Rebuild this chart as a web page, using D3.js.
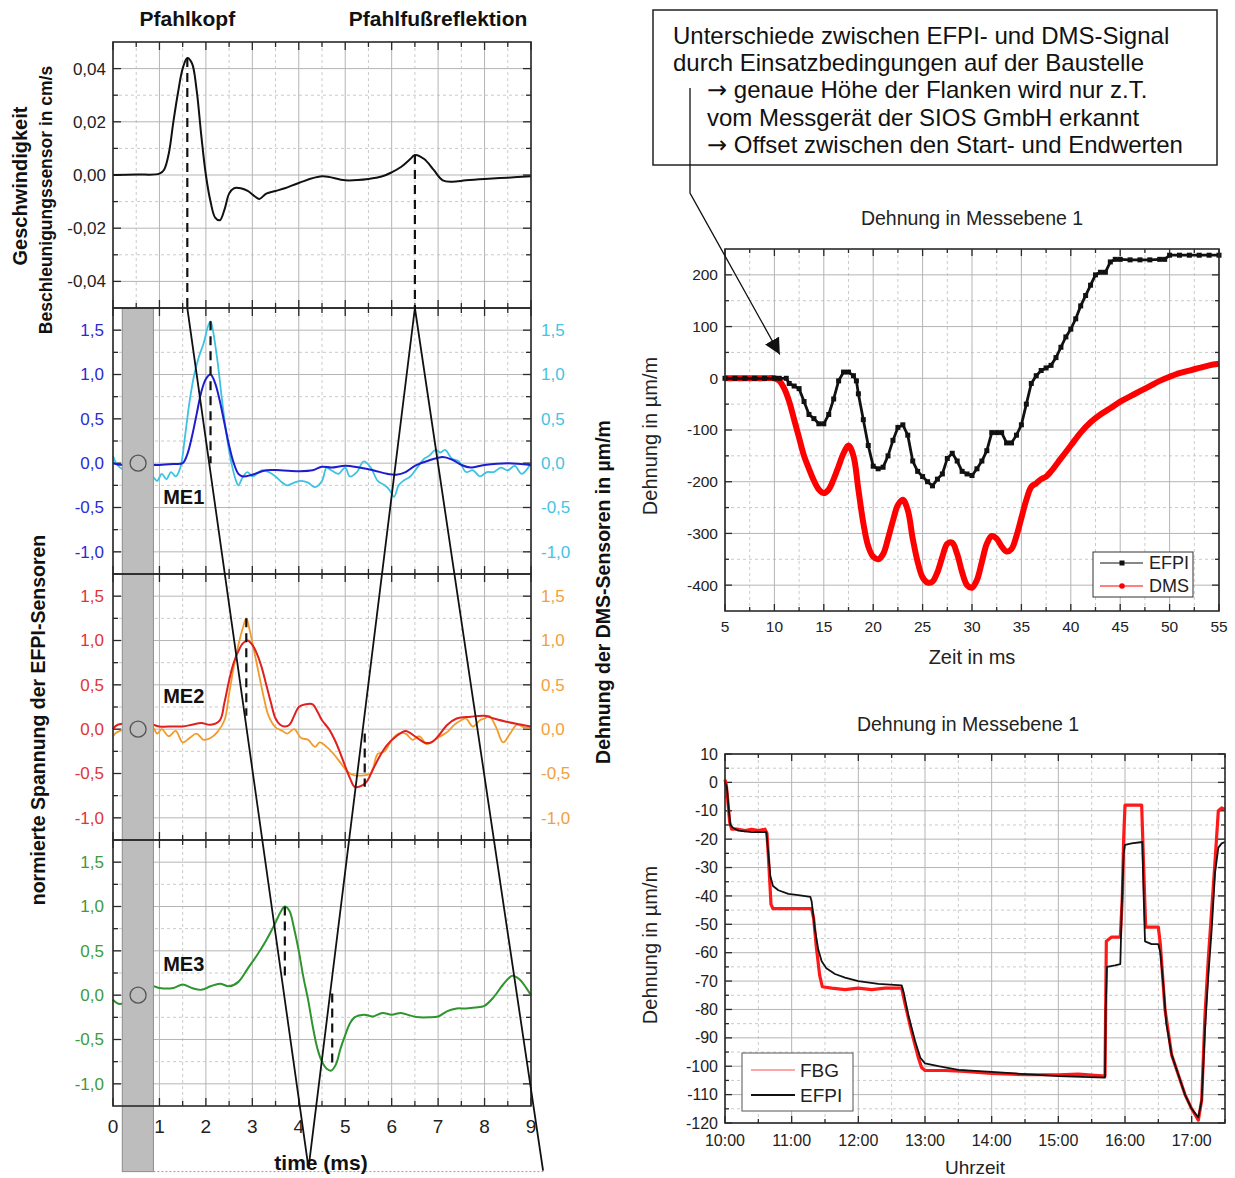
<!DOCTYPE html>
<html>
<head>
<meta charset="utf-8">
<script src="https://cdn.jsdelivr.net/npm/d3@7"></script>
<style>
  body { margin: 0; background: #fff; }
  svg { display: block; font-family: "Liberation Sans", Arial, sans-serif; }
</style>
</head>
<body>
<div id="chart"></div>
<script>
// ---------- data ----------
// left: pile test, time in ms
const velocity = [[0,0],[0.5,0.0002],[1.0,0.0005],[1.1,0.002],[1.2,0.008],[1.3,0.02],[1.4,0.031],[1.5,0.040],[1.6,0.044],[1.7,0.042],[1.8,0.032],[1.9,0.015],[2.0,0.0],[2.1,-0.01],[2.2,-0.016],[2.3,-0.017],[2.4,-0.013],[2.5,-0.007],[2.6,-0.005],[2.75,-0.005],[2.9,-0.006],[3.05,-0.008],[3.15,-0.009],[3.3,-0.007],[3.5,-0.006],[3.7,-0.005],[4.0,-0.003],[4.5,-0.0005],[5.0,-0.002],[5.5,-0.0015],[5.8,-0.0005],[6.0,0.001],[6.2,0.003],[6.4,0.006],[6.5,0.0075],[6.7,0.006],[6.9,0.002],[7.1,-0.002],[7.3,-0.0025],[7.6,-0.002],[8.0,-0.0015],[8.5,-0.001],[9.0,-0.0005]];

const me1Efpi = [[0,0],[0.2,-0.02],[0.85,-0.02],[1.0,-0.02],[1.3,-0.01],[1.5,0.0],[1.6,0.1],[1.7,0.3],[1.8,0.55],[1.9,0.8],[2.0,0.95],[2.1,1.0],[2.2,0.9],[2.3,0.7],[2.4,0.45],[2.5,0.2],[2.6,0.0],[2.7,-0.12],[2.8,-0.15],[3.0,-0.13],[3.3,-0.08],[3.6,-0.08],[4.0,-0.09],[4.3,-0.08],[4.5,-0.04],[4.7,-0.05],[5.0,-0.03],[5.3,-0.05],[5.6,-0.08],[5.9,-0.12],[6.1,-0.13],[6.3,-0.1],[6.5,-0.03],[6.8,0.03],[7.1,0.07],[7.3,0.04],[7.5,-0.02],[7.7,-0.05],[8.0,-0.02],[8.5,0.0],[9.0,-0.02]];
const me1Dms = [[0,0.08],[0.15,-0.05],[0.85,-0.15],[0.95,-0.2],[1.05,-0.12],[1.15,-0.18],[1.25,-0.1],[1.35,-0.15],[1.45,-0.05],[1.55,0.3],[1.65,0.7],[1.75,1.0],[1.85,1.2],[1.95,1.35],[2.05,1.55],[2.1,1.6],[2.15,1.5],[2.25,1.15],[2.35,0.7],[2.45,0.3],[2.55,0.0],[2.65,-0.2],[2.7,-0.25],[2.8,-0.15],[2.9,-0.1],[3.0,-0.15],[3.1,-0.12],[3.2,-0.08],[3.35,-0.1],[3.5,-0.15],[3.6,-0.2],[3.75,-0.25],[3.9,-0.22],[4.05,-0.2],[4.2,-0.22],[4.35,-0.27],[4.5,-0.2],[4.6,-0.05],[4.7,-0.08],[4.85,-0.12],[5.0,-0.05],[5.1,-0.15],[5.25,-0.1],[5.4,0.02],[5.55,-0.05],[5.7,-0.2],[5.85,-0.25],[5.95,-0.3],[6.05,-0.38],[6.15,-0.25],[6.25,-0.2],[6.4,-0.15],[6.55,-0.05],[6.7,0.05],[6.8,0.08],[6.95,0.15],[7.05,0.12],[7.15,0.15],[7.3,0.05],[7.45,0.02],[7.6,-0.1],[7.75,-0.08],[7.9,-0.15],[8.05,-0.1],[8.2,-0.1],[8.35,-0.05],[8.5,-0.08],[8.65,-0.03],[8.8,-0.12],[9.0,0.0]];

const me2Efpi = [[0,0.0],[0.1,0.05],[0.85,0.05],[1.0,0.03],[1.3,0.03],[1.5,0.03],[1.7,0.05],[1.9,0.07],[2.1,0.05],[2.3,0.1],[2.4,0.3],[2.5,0.55],[2.6,0.75],[2.7,0.88],[2.8,0.97],[2.9,1.0],[3.0,0.95],[3.1,0.85],[3.2,0.7],[3.3,0.5],[3.4,0.3],[3.5,0.12],[3.6,0.05],[3.7,0.03],[3.8,0.05],[3.9,0.15],[4.0,0.25],[4.15,0.28],[4.3,0.28],[4.4,0.2],[4.5,0.1],[4.65,0.0],[4.8,-0.15],[4.95,-0.35],[5.1,-0.55],[5.2,-0.65],[5.3,-0.65],[5.45,-0.6],[5.6,-0.45],[5.75,-0.3],[5.9,-0.18],[6.1,-0.08],[6.3,-0.02],[6.5,-0.08],[6.7,-0.15],[6.85,-0.15],[7.0,-0.08],[7.2,0.05],[7.4,0.12],[7.7,0.14],[8.0,0.15],[8.2,0.12],[8.5,0.08],[8.8,0.05],[9.0,0.03]];
const me2Dms = [[0,-0.08],[0.1,-0.03],[0.85,0.02],[0.95,-0.05],[1.05,0.0],[1.2,-0.08],[1.35,-0.02],[1.5,-0.15],[1.65,-0.1],[1.8,-0.05],[1.95,-0.12],[2.1,-0.1],[2.25,-0.03],[2.4,0.1],[2.5,0.4],[2.6,0.7],[2.7,0.95],[2.8,1.15],[2.87,1.25],[2.95,1.1],[3.05,0.85],[3.15,0.6],[3.25,0.35],[3.35,0.15],[3.5,0.02],[3.65,-0.02],[3.75,-0.05],[3.9,0.0],[4.05,-0.1],[4.2,-0.12],[4.35,-0.2],[4.45,-0.15],[4.6,-0.2],[4.75,-0.28],[4.9,-0.38],[5.05,-0.48],[5.2,-0.52],[5.4,-0.52],[5.55,-0.5],[5.7,-0.28],[5.85,-0.25],[6.0,-0.12],[6.15,-0.05],[6.3,-0.05],[6.45,-0.12],[6.6,-0.08],[6.75,-0.17],[6.9,-0.13],[7.05,-0.08],[7.2,-0.03],[7.35,0.05],[7.5,0.1],[7.6,0.12],[7.75,0.03],[7.9,0.1],[8.0,0.12],[8.1,0.15],[8.25,0.02],[8.4,-0.15],[8.55,-0.05],[8.7,0.05],[8.85,0.02],[9.0,0.02]];

const me3Efpi = [[0,-0.05],[0.15,-0.1],[0.85,0.1],[1.0,0.08],[1.3,0.08],[1.5,0.12],[1.7,0.08],[1.9,0.06],[2.1,0.1],[2.3,0.13],[2.5,0.1],[2.7,0.15],[2.9,0.3],[3.1,0.45],[3.3,0.62],[3.5,0.82],[3.6,0.93],[3.7,1.0],[3.8,0.95],[3.9,0.75],[4.0,0.5],[4.1,0.2],[4.2,-0.05],[4.3,-0.35],[4.4,-0.6],[4.5,-0.75],[4.6,-0.83],[4.7,-0.85],[4.8,-0.78],[4.9,-0.6],[5.0,-0.45],[5.1,-0.32],[5.2,-0.25],[5.4,-0.22],[5.6,-0.24],[5.8,-0.2],[6.0,-0.22],[6.2,-0.2],[6.4,-0.23],[6.6,-0.25],[6.8,-0.25],[7.0,-0.24],[7.2,-0.18],[7.4,-0.15],[7.6,-0.15],[7.8,-0.14],[8.0,-0.12],[8.2,-0.02],[8.4,0.12],[8.6,0.22],[8.75,0.18],[8.9,0.08],[9.0,0.0]];

// wave path through the pile: time (ms) and depth in panel units (0 = top of ME1, 3 per panel)
const waveTime = [1.6, 4.21, 6.5, 9.26];
const waveDepth = [0, 9.7, 0, 9.73];

// dashed markers: [panel index (-1 = top), time, from value, to value]
const markers = [[-1,1.6,0.044,-0.05],[-1,6.5,0.0075,-0.05],[0,2.1,1.6,0.0],[1,2.87,1.25,0.15],[1,5.42,-0.05,-0.65],[2,3.7,1.0,0.2],[2,4.72,0.02,-0.82]];

const leftTicksX = [0,1,2,3,4,5,6,7,8,9];
const topTicksY = [-0.04,-0.02,0,0.02,0.04];
const panelTicksY = [-1.0,-0.5,0,0.5,1.0,1.5];

// right top: strain in measuring plane 1, time in ms
const efpiShock = [[5,0],[6,0],[7,0],[8,0],[9,0],[10,0],[10.5,0],[11.2,0],[11.5,-10],[12,-15],[12.5,-20],[13,-45],[13.5,-70],[14,-78],[14.5,-88],[15,-88],[15.5,-70],[16,-40],[16.5,-5],[17,12],[17.5,12],[18,5],[18.3,-5],[18.5,-30],[19,-80],[19.5,-130],[20,-170],[20.5,-175],[21,-172],[21.5,-150],[22,-120],[22.5,-95],[23,-90],[23.5,-110],[24,-160],[24.5,-180],[25,-190],[25.5,-200],[26,-208],[26.5,-195],[27,-185],[27.5,-155],[28,-145],[28.5,-160],[29,-180],[29.5,-185],[30,-188],[30.5,-175],[31,-160],[31.5,-140],[32,-105],[32.5,-105],[33,-105],[33.5,-125],[34,-125],[34.5,-110],[35,-90],[35.5,-50],[36,-10],[36.5,5],[37,15],[37.5,20],[38,25],[38.5,40],[39,60],[39.5,80],[40,95],[40.5,115],[41,140],[41.5,160],[42,180],[42.5,200],[43,205],[43.5,205],[44,225],[44.5,230],[45,230],[46,229],[47,229],[48,229],[49,230],[49.5,230],[50,238],[51,238],[52,238],[53,238],[54,238],[55,238]];
const dmsShock = [[5,0],[7,0],[9,0],[10,0],[10.5,-5],[11,-20],[11.5,-45],[12,-80],[12.5,-115],[13,-150],[13.5,-175],[14,-198],[14.5,-215],[15,-222],[15.5,-215],[16,-195],[16.5,-170],[17,-145],[17.5,-130],[18,-150],[18.5,-215],[19,-280],[19.5,-325],[20,-345],[20.5,-350],[21,-340],[21.5,-310],[22,-275],[22.5,-245],[23,-235],[23.5,-255],[24,-310],[24.5,-355],[25,-385],[25.5,-395],[26,-393],[26.5,-375],[27,-345],[27.5,-320],[28,-318],[28.5,-340],[29,-375],[29.5,-400],[30,-405],[30.5,-390],[31,-355],[31.5,-320],[32,-305],[32.5,-310],[33,-325],[33.5,-335],[34,-330],[34.5,-305],[35,-270],[35.5,-235],[36,-210],[36.5,-203],[37,-195],[37.5,-190],[38,-180],[39,-155],[40,-130],[41,-105],[42,-85],[43,-70],[44,-58],[45,-45],[46,-35],[47,-25],[48,-15],[49,-5],[50,3],[51,10],[52,15],[53,20],[54,25],[55,28]];
const shockTicksX = [5,10,15,20,25,30,35,40,45,50,55];
const shockTicksY = [-400,-300,-200,-100,0,100,200];

// right bottom: strain over the day, time in hours
const fbgDay = [[10.0,1],[10.02,-1],[10.04,-6],[10.07,-14],[10.1,-16.5],[10.2,-16.5],[10.3,-17],[10.4,-16.5],[10.5,-17],[10.6,-16.5],[10.63,-18],[10.66,-30],[10.69,-43],[10.72,-44.5],[10.85,-44.5],[11.0,-44.5],[11.15,-44.5],[11.3,-44.5],[11.33,-48],[11.37,-58],[11.42,-68],[11.46,-72],[11.6,-72.5],[11.8,-73],[12.0,-72.5],[12.2,-73],[12.4,-72.5],[12.65,-72.5],[12.7,-78],[12.8,-88],[12.9,-97],[12.95,-100.5],[13.0,-101.5],[13.3,-101.5],[13.6,-101.8],[14.0,-102.5],[14.5,-103],[15.0,-103],[15.3,-102.8],[15.7,-103.5],[15.72,-56],[15.8,-54.5],[15.93,-54.5],[15.96,-40],[15.98,-20],[16.0,-8],[16.1,-8],[16.25,-8],[16.28,-30],[16.31,-51],[16.4,-51],[16.5,-51],[16.53,-57],[16.6,-80],[16.7,-96],[16.8,-103],[16.9,-110],[17.0,-115],[17.1,-119],[17.15,-112],[17.2,-82],[17.25,-62],[17.3,-45],[17.35,-28],[17.4,-10],[17.45,-9],[17.5,-9.5]];
const efpiDay = [[10.0,0],[10.03,-2],[10.05,-8],[10.08,-15],[10.12,-16],[10.2,-17],[10.4,-17.5],[10.62,-17.5],[10.65,-25],[10.68,-33],[10.72,-36.5],[10.8,-38],[10.95,-39.3],[11.1,-39.7],[11.28,-40.3],[11.3,-42],[11.35,-52],[11.4,-59],[11.45,-63],[11.52,-65.5],[11.65,-67.5],[11.8,-68.8],[12.0,-70],[12.3,-71],[12.65,-71.5],[12.68,-74],[12.75,-82],[12.85,-91],[12.93,-97],[13.0,-99],[13.2,-100],[13.5,-101.3],[14.0,-102],[14.5,-102.8],[15.0,-103.5],[15.7,-104],[15.71,-80],[15.73,-65],[15.85,-64.5],[15.93,-64],[15.95,-45],[15.98,-25],[16.0,-22],[16.1,-21.5],[16.26,-21],[16.28,-40],[16.3,-56],[16.4,-57],[16.5,-57],[16.53,-60],[16.57,-70],[16.62,-85],[16.7,-96],[16.8,-103],[16.9,-110],[17.0,-115],[17.1,-118],[17.15,-112],[17.2,-87],[17.25,-68],[17.3,-52],[17.35,-32],[17.4,-23],[17.45,-21.5],[17.5,-21]];
const dayTicksX = [10,11,12,13,14,15,16,17];
const dayTicksY = [-120,-110,-100,-90,-80,-70,-60,-50,-40,-30,-20,-10,0,10];

// note text: [arrow prefix, rest]
const noteLines = [
  ["", "Unterschiede zwischen EFPI- und DMS-Signal"],
  ["", "durch Einsatzbedingungen auf der Baustelle"],
  ["\u2192", " genaue Höhe der Flanken wird nur z.T."],
  ["", "vom Messgerät der SIOS GmbH erkannt"],
  ["\u2192", " Offset zwischen den Start- und Endwerten"]
];

// ---------- drawing ----------
const svg = d3.select('#chart').append('svg')
    .attr('width', 1235)
    .attr('height', 1178);

const comma = f => v => d3.format(f)(v).replace('.', ',').replace('\u2212', '-');
const gridSolid = '#b5b5b5', gridDash = '#cacaca', frameCol = '#2a2a2a';

// generic grid + inward ticks
function frame(g, x, y, xMaj, xMin, yMaj, yMin, tickLen) {
    const [x0, x1] = x.range();
    const [y0, y1] = y.range(); // bottom, top
    g.append('g').selectAll('line').data(xMin).join('line')
        .attr('x1', d => x(d)).attr('x2', d => x(d)).attr('y1', y1).attr('y2', y0)
        .attr('stroke', gridDash).attr('stroke-dasharray', '3,3');
    g.append('g').selectAll('line').data(yMin).join('line')
        .attr('y1', d => y(d)).attr('y2', d => y(d)).attr('x1', x0).attr('x2', x1)
        .attr('stroke', gridDash).attr('stroke-dasharray', '3,3');
    g.append('g').selectAll('line').data(xMaj).join('line')
        .attr('x1', d => x(d)).attr('x2', d => x(d)).attr('y1', y1).attr('y2', y0)
        .attr('stroke', gridSolid);
    g.append('g').selectAll('line').data(yMaj).join('line')
        .attr('y1', d => y(d)).attr('y2', d => y(d)).attr('x1', x0).attr('x2', x1)
        .attr('stroke', gridSolid);
    const ticks = g.append('g').attr('stroke', frameCol).attr('stroke-width', 1.3);
    const xt = xMaj.map(v => [v, tickLen[0]]).concat(xMin.map(v => [v, tickLen[1]]));
    const yt = yMaj.map(v => [v, tickLen[0]]).concat(yMin.map(v => [v, tickLen[1]]));
    ticks.selectAll('.tb').data(xt).join('line').attr('class', 'tb')
        .attr('x1', d => x(d[0])).attr('x2', d => x(d[0])).attr('y1', y0).attr('y2', d => y0 - d[1]);
    ticks.selectAll('.tt').data(xt).join('line').attr('class', 'tt')
        .attr('x1', d => x(d[0])).attr('x2', d => x(d[0])).attr('y1', y1).attr('y2', d => y1 + d[1]);
    ticks.selectAll('.tl').data(yt).join('line').attr('class', 'tl')
        .attr('y1', d => y(d[0])).attr('y2', d => y(d[0])).attr('x1', x0).attr('x2', d => x0 + d[1]);
    ticks.selectAll('.tr').data(yt).join('line').attr('class', 'tr')
        .attr('y1', d => y(d[0])).attr('y2', d => y(d[0])).attr('x1', x1).attr('x2', d => x1 - d[1]);
}
function border(g, x, y) {
    const [x0, x1] = x.range();
    const [y0, y1] = y.range();
    g.append('rect').attr('x', x0).attr('y', y1).attr('width', x1 - x0).attr('height', y0 - y1)
        .attr('fill', 'none').attr('stroke', frameCol).attr('stroke-width', 1.6);
}

// ===== left composite =====
const left = svg.append('g');
const xL = d3.scaleLinear().domain([0, 9]).range([113, 531]);
const yTop = d3.scaleLinear().domain([-0.05, 0.05]).range([308, 42]);
const yStack = d3.scaleLinear().domain([0, 9]).range([308, 1106]);
const halfMs = d3.range(0, 9).map(d => d + 0.5);

frame(left, xL, yTop, leftTicksX, halfMs, topTicksY, [-0.03, -0.01, 0.01, 0.03], [8, 5]);

const panels = [
    { name: 'ME1', a: me1Efpi, b: me1Dms, ca: '#1d1dcf', cb: '#3ec2e2', la: '#2b2bd6', lb: '#45c3e3', lab: -0.38 },
    { name: 'ME2', a: me2Efpi, b: me2Dms, ca: '#e11f1f', cb: '#f39b2a', la: '#e03535', lb: '#f2a03c', lab: 0.37 },
    { name: 'ME3', a: me3Efpi, b: null, ca: '#2e942e', cb: null, la: '#3c9c3c', lb: null, lab: 0.35 }
];
panels.forEach((p, i) => {
    p.y = d3.scaleLinear().domain([-1.25, 1.75]).range([yStack(3 * i + 3), yStack(3 * i)]);
    frame(left, xL, p.y, leftTicksX, halfMs, panelTicksY, [-0.75, -0.25, 0.25, 0.75, 1.25], [8, 5]);
});

// curves
const topLine = d3.line().x(d => xL(d[0])).y(d => yTop(d[1])).curve(d3.curveCatmullRom);
left.append('path').attr('d', topLine(velocity)).attr('fill', 'none')
    .attr('stroke', '#111').attr('stroke-width', 2);
panels.forEach(p => {
    const ln = d3.line().x(d => xL(d[0])).y(d => p.y(d[1])).curve(d3.curveCatmullRom);
    if (p.b) left.append('path').attr('d', ln(p.b)).attr('fill', 'none').attr('stroke', p.cb).attr('stroke-width', 1.8);
    left.append('path').attr('d', ln(p.a)).attr('fill', 'none').attr('stroke', p.ca).attr('stroke-width', 2);
});

// pile bar with sensors
left.append('rect').attr('x', xL(0.2)).attr('y', yStack(0))
    .attr('width', xL(0.87) - xL(0.2)).attr('height', yStack(9.74) - yStack(0))
    .attr('fill', '#bdbdbd').attr('stroke', '#8c8c8c');
left.selectAll('.sensor').data(panels).join('circle').attr('class', 'sensor')
    .attr('cx', xL(0.54)).attr('cy', d => d.y(0)).attr('r', 8)
    .attr('fill', 'none').attr('stroke', '#555').attr('stroke-width', 1.3);
left.append('line').attr('x1', xL(0.87)).attr('x2', xL(9.3)).attr('y1', yStack(9.74)).attr('y2', yStack(9.74))
    .attr('stroke', '#999').attr('stroke-dasharray', '2,2');

// borders on top
border(left, xL, yTop);
panels.forEach(p => border(left, xL, p.y));

// wave path
left.append('path')
    .attr('d', d3.line().x(d => xL(d)).y((d, i) => yStack(waveDepth[i]))(waveTime))
    .attr('fill', 'none').attr('stroke', '#111').attr('stroke-width', 1.8);

// dashed markers
left.selectAll('.mk').data(markers).join('line').attr('class', 'mk')
    .attr('x1', d => xL(d[1])).attr('x2', d => xL(d[1]))
    .attr('y1', d => (d[0] < 0 ? yTop : panels[d[0]].y)(d[2]))
    .attr('y2', d => (d[0] < 0 ? yTop : panels[d[0]].y)(d[3]))
    .attr('stroke', '#111').attr('stroke-width', 2.2).attr('stroke-dasharray', '9,6');

// tick labels
const lt = left.append('g').style('font-size', '17px');
lt.selectAll('.yt').data(topTicksY).join('text').attr('class', 'yt')
    .attr('x', 106).attr('y', d => yTop(d)).attr('dy', '0.35em').attr('text-anchor', 'end')
    .attr('fill', '#222').text(comma('.2f'));
panels.forEach(p => {
    lt.append('g').selectAll('text').data(panelTicksY).join('text')
        .attr('x', 104).attr('y', d => p.y(d)).attr('dy', '0.35em').attr('text-anchor', 'end')
        .attr('fill', p.la).text(comma('.1f'));
    if (p.lb) lt.append('g').selectAll('text').data(panelTicksY).join('text')
        .attr('x', 541).attr('y', d => p.y(d)).attr('dy', '0.35em').attr('text-anchor', 'start')
        .attr('fill', p.lb).text(comma('.1f'));
    left.append('text').attr('x', xL(1.08)).attr('y', p.y(p.lab)).attr('dy', '0.35em')
        .style('font-size', '20px').style('font-weight', 'bold').attr('fill', '#111').text(p.name);
});
lt.append('g').selectAll('text').data(leftTicksX).join('text')
    .attr('x', d => xL(d)).attr('y', 1133).attr('text-anchor', 'middle')
    .style('font-size', '19px').attr('fill', '#222').text(d => d);

const bold = left.append('g').style('font-weight', 'bold').style('font-size', '19.5px').attr('fill', '#111');
bold.append('text').attr('x', xL(1.6)).attr('y', 26).attr('text-anchor', 'middle').style('font-size', '21px').text('Pfahlkopf');
bold.append('text').attr('x', xL(7.0)).attr('y', 26).attr('text-anchor', 'middle').style('font-size', '21px').text('Pfahlfußreflektion');
bold.append('text').attr('x', 321).attr('y', 1170).attr('text-anchor', 'middle').style('font-size', '21px').text('time (ms)');
bold.append('text').attr('transform', 'translate(27,186) rotate(-90)').attr('text-anchor', 'middle').style('font-size', '20px').text('Geschwindigkeit');
bold.append('text').attr('transform', 'translate(52,200) rotate(-90)').attr('text-anchor', 'middle').style('font-size', '17.5px').text('Beschleunigungssensor in cm/s');
bold.append('text').attr('transform', 'translate(45,720) rotate(-90)').attr('text-anchor', 'middle').text('normierte Spannung der EFPI-Sensoren');
bold.append('text').attr('transform', 'translate(610,592) rotate(-90)').attr('text-anchor', 'middle').text('Dehnung der DMS-Sensoren in µm/m');

// ===== right top: shock strain =====
const rt = svg.append('g');
const xR1 = d3.scaleLinear().domain([5, 55]).range([725, 1219]);
const yR1 = d3.scaleLinear().domain([-450, 250]).range([611, 249]);
frame(rt, xR1, yR1, shockTicksX, shockTicksX.slice(0, -1).map(d => d + 2.5),
    shockTicksY, [-350, -250, -150, -50, 50, 150], [7, 4]);

rt.append('path').attr('d', d3.line().x(d => xR1(d[0])).y(d => yR1(d[1])).curve(d3.curveCatmullRom)(dmsShock))
    .attr('fill', 'none').attr('stroke', '#ff0000').attr('stroke-width', 6).attr('stroke-linejoin', 'round');
rt.append('path').attr('d', d3.line().x(d => xR1(d[0])).y(d => yR1(d[1]))(efpiShock)).attr('fill', 'none')
    .attr('stroke', '#111').attr('stroke-width', 2.8);
rt.selectAll('.sq').data(efpiShock).join('rect').attr('class', 'sq')
    .attr('x', d => xR1(d[0]) - 2.5).attr('y', d => yR1(d[1]) - 2.5)
    .attr('width', 5).attr('height', 5).attr('fill', '#111');
border(rt, xR1, yR1);

const rtt = rt.append('g').style('font-size', '15.5px').attr('fill', '#222');
rtt.selectAll('.xl').data(shockTicksX).join('text').attr('class', 'xl')
    .attr('x', d => xR1(d)).attr('y', 632).attr('text-anchor', 'middle').text(d => d);
rtt.selectAll('.yl').data(shockTicksY).join('text').attr('class', 'yl')
    .attr('x', 718).attr('y', d => yR1(d)).attr('dy', '0.35em').attr('text-anchor', 'end').text(d => d);
rt.append('text').attr('x', 972).attr('y', 225).attr('text-anchor', 'middle')
    .style('font-size', '19.5px').attr('fill', '#222').text('Dehnung in Messebene 1');
rt.append('text').attr('x', 972).attr('y', 664).attr('text-anchor', 'middle')
    .style('font-size', '20px').attr('fill', '#222').text('Zeit in ms');
rt.append('text').attr('transform', 'translate(657,436) rotate(-90)').attr('text-anchor', 'middle')
    .style('font-size', '20px').attr('fill', '#222').text('Dehnung in µm/m');

// legend
const lg1 = rt.append('g');
lg1.append('rect').attr('x', 1093).attr('y', 552).attr('width', 100).attr('height', 45)
    .attr('fill', '#fff').attr('stroke', '#333');
[['EFPI', '#111', 'sq'], ['DMS', '#ff0000', 'dot']].forEach((it, i) => {
    const yy = 563 + i * 23;
    lg1.append('line').attr('x1', 1100).attr('x2', 1143).attr('y1', yy).attr('y2', yy).attr('stroke', it[1]);
    if (it[2] === 'sq') lg1.append('rect').attr('x', 1119.5).attr('y', yy - 2.5).attr('width', 5).attr('height', 5).attr('fill', it[1]);
    else lg1.append('circle').attr('cx', 1122).attr('cy', yy).attr('r', 2.8).attr('fill', it[1]);
    lg1.append('text').attr('x', 1149).attr('y', yy).attr('dy', '0.35em').style('font-size', '18px')
        .attr('fill', '#222').text(it[0]);
});

// ===== right bottom: day strain =====
const rb = svg.append('g');
const xR2 = d3.scaleLinear().domain([10, 17.5]).range([725, 1225]);
const yR2 = d3.scaleLinear().domain([-120, 10]).range([1123, 754]);
frame(rb, xR2, yR2, dayTicksX, dayTicksX.map(d => d + 0.5), dayTicksY,
    dayTicksY.slice(0, -1).map(d => d + 5), [7, 4]);
const lR2 = d3.line().x(d => xR2(d[0])).y(d => yR2(d[1]));
rb.append('path').attr('d', lR2(fbgDay)).attr('fill', 'none')
    .attr('stroke', '#ff1a1a').attr('stroke-width', 3.2).attr('stroke-linejoin', 'round');
rb.append('path').attr('d', lR2(efpiDay)).attr('fill', 'none')
    .attr('stroke', '#111').attr('stroke-width', 1.8).attr('stroke-linejoin', 'round');
border(rb, xR2, yR2);

const rbt = rb.append('g').style('font-size', '16px').attr('fill', '#222');
rbt.selectAll('.xl').data(dayTicksX).join('text').attr('class', 'xl')
    .attr('x', d => xR2(d)).attr('y', 1146).attr('text-anchor', 'middle').text(d => d + ':00');
rbt.selectAll('.yl').data(dayTicksY).join('text').attr('class', 'yl')
    .attr('x', 718).attr('y', d => yR2(d)).attr('dy', '0.35em').attr('text-anchor', 'end').text(d => d);
rb.append('text').attr('x', 968).attr('y', 731).attr('text-anchor', 'middle')
    .style('font-size', '19.5px').attr('fill', '#222').text('Dehnung in Messebene 1');
rb.append('text').attr('x', 975).attr('y', 1174).attr('text-anchor', 'middle')
    .style('font-size', '19px').attr('fill', '#222').text('Uhrzeit');
rb.append('text').attr('transform', 'translate(657,945) rotate(-90)').attr('text-anchor', 'middle')
    .style('font-size', '20px').attr('fill', '#222').text('Dehnung in µm/m');

const lg2 = rb.append('g');
lg2.append('rect').attr('x', 742).attr('y', 1053).attr('width', 111).attr('height', 58)
    .attr('fill', '#fff').attr('stroke', '#555');
[['FBG', '#ff8a8a', 1.6], ['EFPI', '#111', 2]].forEach((it, i) => {
    const yy = 1070 + i * 25;
    lg2.append('line').attr('x1', 751).attr('x2', 795).attr('y1', yy).attr('y2', yy)
        .attr('stroke', it[1]).attr('stroke-width', it[2]);
    lg2.append('text').attr('x', 800).attr('y', yy).attr('dy', '0.35em').style('font-size', '19px')
        .attr('fill', '#222').text(it[0]);
});

// ===== note box with arrow =====
const note = svg.append('g');
note.append('rect').attr('x', 653).attr('y', 10).attr('width', 564).attr('height', 155)
    .attr('fill', '#fff').attr('stroke', '#222').attr('stroke-width', 1.5);
const nt = note.selectAll('text').data(noteLines).join('text')
    .attr('x', (d, i) => i < 2 ? 673 : 707)
    .attr('y', (d, i) => 44 + i * 27.2)
    .style('font-size', '24px').attr('fill', '#111');
nt.append('tspan').style('font-family', '"DejaVu Sans", sans-serif').style('font-size', '24px').text(d => d[0]);
nt.append('tspan').text(d => d[1]);

svg.append('defs').append('marker').attr('id', 'ah').attr('viewBox', '0 0 10 10')
    .attr('refX', 10).attr('refY', 5).attr('markerWidth', 16).attr('markerHeight', 16)
    .attr('markerUnits', 'userSpaceOnUse').attr('orient', 'auto')
    .append('path').attr('d', 'M0,0L10,5L0,10z').attr('fill', '#111');
note.append('path')
    .attr('d', d3.line()([[690, 88], [690, 193], [xR1(10.55), yR1(46)]]))
    .attr('fill', 'none').attr('stroke', '#111').attr('stroke-width', 1.3)
    .attr('marker-end', 'url(#ah)');
</script>
</body>
</html>
